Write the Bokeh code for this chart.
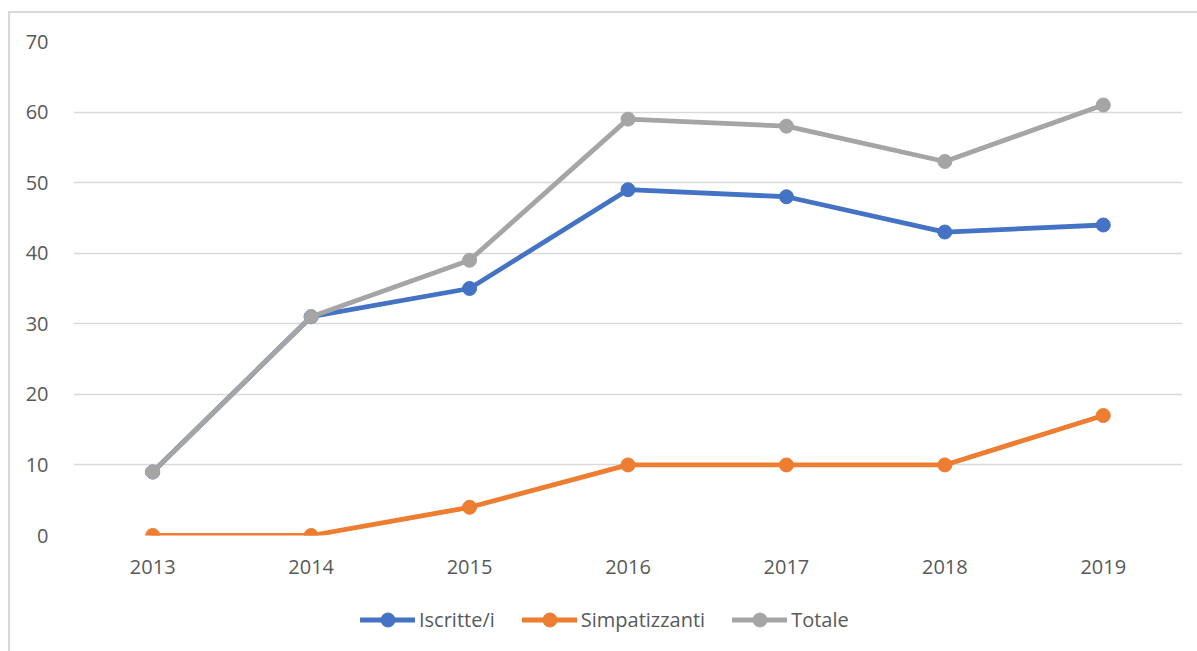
from bokeh.plotting import figure
from bokeh.models import FixedTicker, Legend, LegendItem, ColumnDataSource
from bokeh.layouts import column
from bokeh.embed import file_html
from bokeh.resources import INLINE

years = ["2013", "2014", "2015", "2016", "2017", "2018", "2019"]
iscritte = [9, 31, 35, 49, 48, 43, 44]
simpatizzanti = [0, 0, 4, 10, 10, 10, 17]
totale = [9, 31, 39, 59, 58, 53, 61]
series_names = ["Iscritte/i", "Simpatizzanti", "Totale"]
colors = ["#4472C4", "#ED7D31", "#A5A5A5"]
y_ticks = [0, 10, 20, 30, 40, 50, 60, 70]

FONT = "Open Sans"
TXT = "#595959"
LW = 4.8
MS = 14

p = figure(x_range=years, y_range=(0, 70), width=1187, height=577,
           output_backend="svg", toolbar_location=None,
           min_border_left=63, min_border_right=15, min_border_top=28, min_border_bottom=55)
p.outline_line_color = None
p.xgrid.grid_line_color = None
p.ygrid.grid_line_color = "#d9d9d9"
p.ygrid.grid_line_width = 1.5
p.yaxis.ticker = FixedTicker(ticks=y_ticks)
for ax in (p.xaxis, p.yaxis):
    ax.axis_line_color = None
    ax.major_tick_line_color = None
    ax.minor_tick_line_color = None
    ax.major_label_text_font = FONT
    ax.major_label_text_font_size = "20px"
    ax.major_label_text_color = TXT
p.yaxis.major_label_standoff = 19
p.xaxis.major_label_standoff = 18

sources = [ColumnDataSource(dict(x=years, y=vals)) for vals in [iscritte, simpatizzanti, totale]]
for src, c in zip(sources, colors):
    p.line("x", "y", source=src, line_color=c, line_width=LW, line_cap="round", line_join="round")
    p.scatter("x", "y", source=src, size=MS, fill_color=c, line_color=c)

# legend strip (its renderers' data lie outside the visible range)
p2 = figure(x_range=p.x_range, y_range=(1000, 1001), width=1187, height=61,
            output_backend="svg", toolbar_location=None,
            min_border_left=63, min_border_right=15, min_border_top=0, min_border_bottom=0)
p2.axis.visible = False
p2.grid.grid_line_color = None
p2.outline_line_color = None
items = []
for name, src, c in zip(series_names, sources, colors):
    r1 = p2.line("x", "y", source=src, line_color=c, line_width=LW, line_cap="round")
    r2 = p2.scatter("x", "y", source=src, size=MS, fill_color=c, line_color=c)
    items.append(LegendItem(label=name, renderers=[r1, r2]))
legend = Legend(items=items, orientation="horizontal", location=(287, 14),
                glyph_width=55, glyph_height=35, label_standoff=4, spacing=27,
                label_text_font=FONT, label_text_font_size="20px", label_text_color=TXT,
                border_line_color=None, background_fill_alpha=0, padding=0, margin=0)
p2.add_layout(legend, "center")

layout = column(p, p2, spacing=0)
layout.styles = {"border-left": "2px solid #d9d9d9", "border-top": "2px solid #d9d9d9",
                 "margin-top": "11px", "margin-left": "8px"}

open("out.html", "w").write(file_html(layout, INLINE))
